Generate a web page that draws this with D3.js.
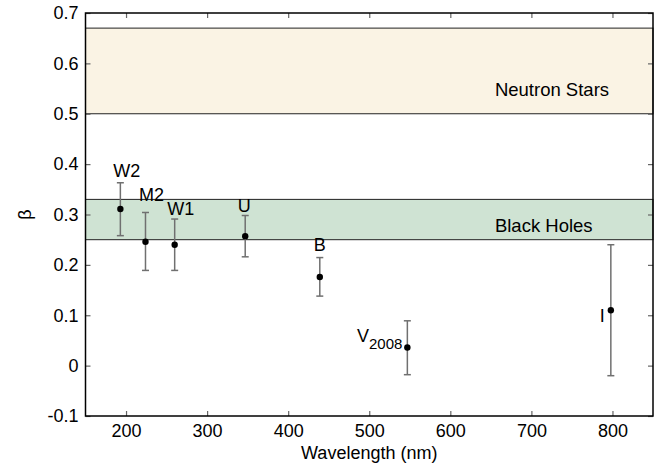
<!DOCTYPE html>
<html>
<head>
<meta charset="utf-8">
<script src="https://cdn.jsdelivr.net/npm/d3@7"></script>
<style>
  body { margin: 0; background: #fff; }
  svg text { font-family: "Liberation Sans", Arial, sans-serif; fill: #000; }
</style>
</head>
<body>
<div id="chart"></div>
<script>
// filters and their beta values
const FILTERS = ["W2", "M2", "W1", "U", "B", "V", "I"]
const WAVELENGTH = [193, 224, 260, 347, 439, 547, 798]
const BETA = [0.311, 0.246, 0.240, 0.257, 0.176, 0.036, 0.110]
const BETA_LO = [0.258, 0.189, 0.189, 0.216, 0.138, -0.018, -0.020]
const BETA_HI = [0.363, 0.304, 0.291, 0.298, 0.2145, 0.089, 0.240]
const BAND_NAMES = ["Neutron Stars", "Black Holes"]
const BAND_LO = [0.5, 0.25]
const BAND_HI = [0.67, 0.33]
const BAND_COLORS = ["#faf3e4", "#cfe3d3"]
const X_TICKS = [200, 300, 400, 500, 600, 700, 800]
const Y_TICKS = [-0.1, 0, 0.1, 0.2, 0.3, 0.4, 0.5, 0.6, 0.7]
const Y_TICK_LABELS = ["-0.1", "0", "0.1", "0.2", "0.3", "0.4", "0.5", "0.6", "0.7"]

const width = 665, height = 466
const margin = { top: 13, right: 12, bottom: 50, left: 85.5 }
const innerW = width - margin.left - margin.right
const innerH = height - margin.top - margin.bottom
const FS = "18px"

const svg = d3.select("#chart").append("svg")
  .attr("width", width)
  .attr("height", height)

const g = svg.append("g").attr("transform", `translate(${margin.left},${margin.top})`)

const x = d3.scaleLinear().domain([150, 850]).range([0, innerW])
const y = d3.scaleLinear().domain([-0.1, 0.7]).range([innerH, 0])

const bands = BAND_NAMES.map((name, i) => ({ name, lo: BAND_LO[i], hi: BAND_HI[i], color: BAND_COLORS[i] }))

// shaded bands
g.selectAll(".band").data(bands).enter().append("rect")
  .attr("x", 0)
  .attr("width", innerW)
  .attr("y", d => y(d.hi))
  .attr("height", d => y(d.lo) - y(d.hi))
  .attr("fill", d => d.color)
  .attr("stroke", "#222")
  .attr("stroke-width", 1)

// label offsets (px above the lower edge of each band)
const bandLabelDy = [-18, -8]
g.selectAll(".band-label").data(bands).enter().append("text")
  .attr("x", x(655))
  .attr("y", (d, i) => y(d.lo) + bandLabelDy[i])
  .attr("font-size", "18.5px")
  .text(d => d.name)

// axes, ticks pointing inward
function styleAxis(sel, showText) {
  sel.select(".domain").remove()
  sel.selectAll(".tick line").attr("stroke", "#666").attr("stroke-width", 1.2)
  sel.selectAll("text").attr("font-size", FS).attr("fill", "#000")
  if (!showText) sel.selectAll("text").remove()
}

g.append("g").attr("transform", `translate(0,${innerH})`)
  .call(d3.axisBottom(x).tickValues(X_TICKS).tickSizeInner(-5).tickPadding(8).tickFormat(d3.format("d")))
  .call(s => styleAxis(s, true))
g.append("g")
  .call(d3.axisTop(x).tickValues(X_TICKS).tickSizeInner(-5))
  .call(s => styleAxis(s, false))
g.append("g")
  .call(d3.axisLeft(y).tickValues(Y_TICKS).tickSizeInner(-5).tickPadding(7)
    .tickFormat((d, i) => Y_TICK_LABELS[i]))
  .call(s => styleAxis(s, true))
g.append("g").attr("transform", `translate(${innerW},0)`)
  .call(d3.axisRight(y).tickValues(Y_TICKS).tickSizeInner(-5))
  .call(s => styleAxis(s, false))

g.append("rect")
  .attr("width", innerW)
  .attr("height", innerH)
  .attr("fill", "none")
  .attr("stroke", "#000")
  .attr("stroke-width", 1.5)

// error bars
const pts = FILTERS.map((f, i) => ({ f, w: WAVELENGTH[i], b: BETA[i], lo: BETA_LO[i], hi: BETA_HI[i] }))
const eb = g.selectAll(".err").data(pts).enter().append("g").attr("class", "err")
  .attr("stroke", "#707070").attr("stroke-width", 1.5)
eb.append("line")
  .attr("x1", d => x(d.w)).attr("x2", d => x(d.w))
  .attr("y1", d => y(d.lo)).attr("y2", d => y(d.hi))
eb.append("line")
  .attr("x1", d => x(d.w) - 3.5).attr("x2", d => x(d.w) + 3.5)
  .attr("y1", d => y(d.lo)).attr("y2", d => y(d.lo))
eb.append("line")
  .attr("x1", d => x(d.w) - 3.5).attr("x2", d => x(d.w) + 3.5)
  .attr("y1", d => y(d.hi)).attr("y2", d => y(d.hi))

g.selectAll(".pt").data(pts).enter().append("circle")
  .attr("cx", d => x(d.w))
  .attr("cy", d => y(d.b))
  .attr("r", 3.2)
  .attr("fill", "#000")

// point labels (offsets in px relative to each point)
const LABEL_POS = {
  W2: [6.5, -32, "middle"], M2: [6, -41, "middle"], W1: [6, -30, "middle"],
  U: [-1, -24, "middle"], B: [0, -26, "middle"], V: [-5, -5, "end"], I: [-6, 12, "end"]
}
pts.forEach(d => {
  const [dx, dy, anchor] = LABEL_POS[d.f]
  const t = g.append("text")
    .attr("x", x(d.w) + dx)
    .attr("y", y(d.b) + dy)
    .attr("text-anchor", anchor)
    .attr("font-size", FS)
  if (d.f === "V") {
    t.append("tspan").text("V")
    t.append("tspan").attr("dy", 7).attr("font-size", "15px").text("2008")
  } else {
    t.text(d.f)
  }
})

// axis titles
svg.append("text")
  .attr("x", margin.left + innerW / 2)
  .attr("y", 459)
  .attr("text-anchor", "middle")
  .attr("font-size", FS)
  .text("Wavelength (nm)")

svg.append("text")
  .attr("transform", `translate(31,${margin.top + y(0.3)}) rotate(-90)`)
  .attr("text-anchor", "middle")
  .attr("font-size", FS)
  .text("β")
</script>
</body>
</html>
